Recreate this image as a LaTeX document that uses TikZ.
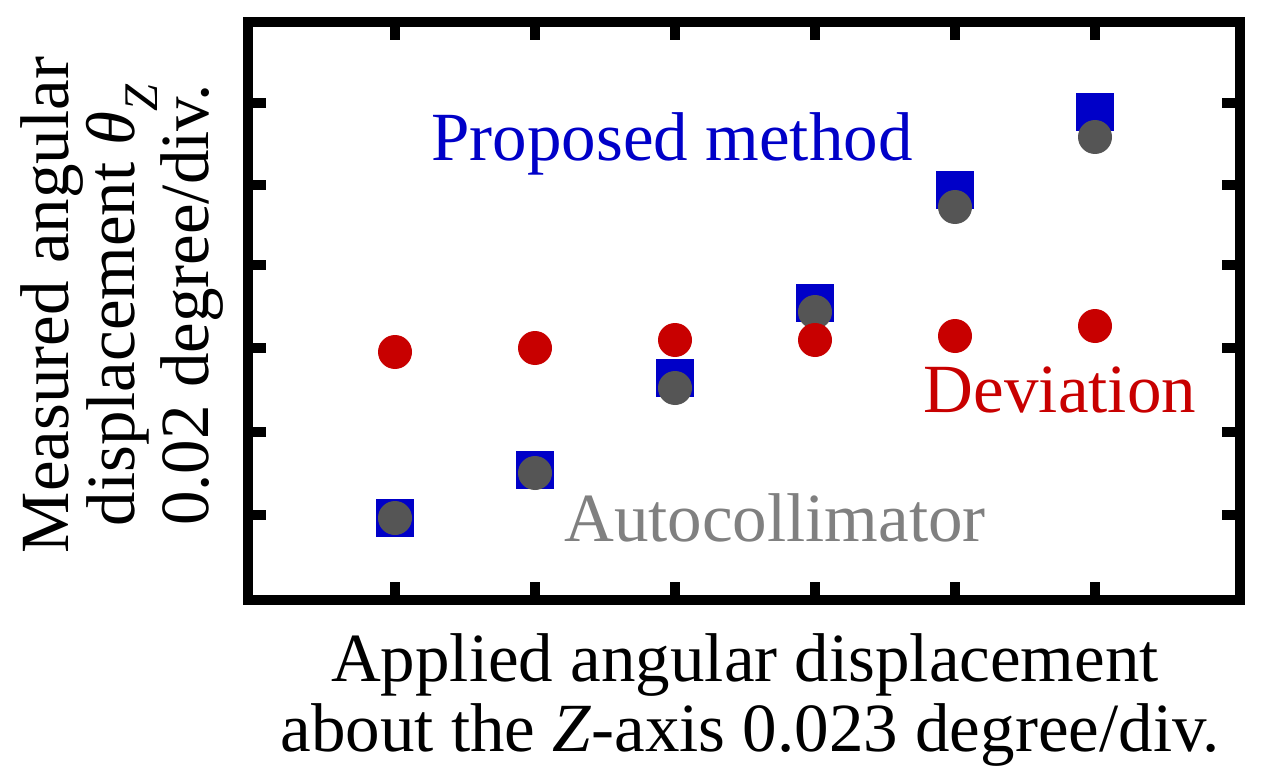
\documentclass[tikz,border=0pt]{standalone}
\usepackage{fontspec}
\setmainfont{Liberation Serif}
\definecolor{pblue}{RGB}{0,0,200}
\definecolor{dred}{RGB}{200,0,0}
\definecolor{agrey}{RGB}{85,85,85}
\definecolor{tgrey}{RGB}{128,128,128}
\begin{document}
\begin{tikzpicture}[x=1pt,y=-1pt,
  lab/.style={font=\fontsize{69}{76}\selectfont, inner sep=0pt},
  sq/.style={fill=pblue, minimum size=38pt, inner sep=0pt, draw=none},
  gc/.style={circle, fill=agrey, minimum size=34pt, inner sep=0pt},
  rc/.style={circle, fill=dred, minimum size=34pt, inner sep=0pt}]
\useasboundingbox (0,0) rectangle (1270,773);
\draw[line width=10pt] (248,22) rectangle (1240,600);
\foreach \x in {395,535,675,815,955,1095}{
  \draw[line width=10pt] (\x,600) -- (\x,582);
  \draw[line width=10pt] (\x,22) -- (\x,40);}
\foreach \y in {515,432,348,265,185,103}{
  \draw[line width=10pt] (248,\y) -- (266,\y);
  \draw[line width=10pt] (1240,\y) -- (1222,\y);}
\foreach \x/\y [count=\i] in {395/518,535/470,675/378,815/303,955/190,1095/112}
  \node[sq] (s\i) at (\x,\y) {};
\foreach \x/\y [count=\i] in {395/518,535/473,675/388,815/312,955/207,1095/137}
  \node[gc] (g\i) at (\x,\y) {};
\foreach \x/\y [count=\i] in {395/352,535/348,675/340,815/340,955/336,1095/326}
  \node[rc] (r\i) at (\x,\y) {};
\node[lab, text=pblue] (tp) at (672,144) {Proposed method};
\node[lab, text=dred] (td) at (1060,390) {Deviation};
\node[lab, text=tgrey] (ta) at (775,518) {Autocollimator};
\node[lab, rotate=90] (y1) at (52,305) {Measured angular};
\node[lab, rotate=90] (y2) at (122,305) {displacement \textit{θ}\textsubscript{\textit{Z}}};
\node[lab, rotate=90] (y3) at (192,305) {0.02 degree/div.};
\node[lab] (x1) at (745,665) {Applied angular displacement};
\node[lab] (x2) at (750,735) {about the \textit{Z}-axis 0.023 degree/div.};
\end{tikzpicture}
\end{document}
